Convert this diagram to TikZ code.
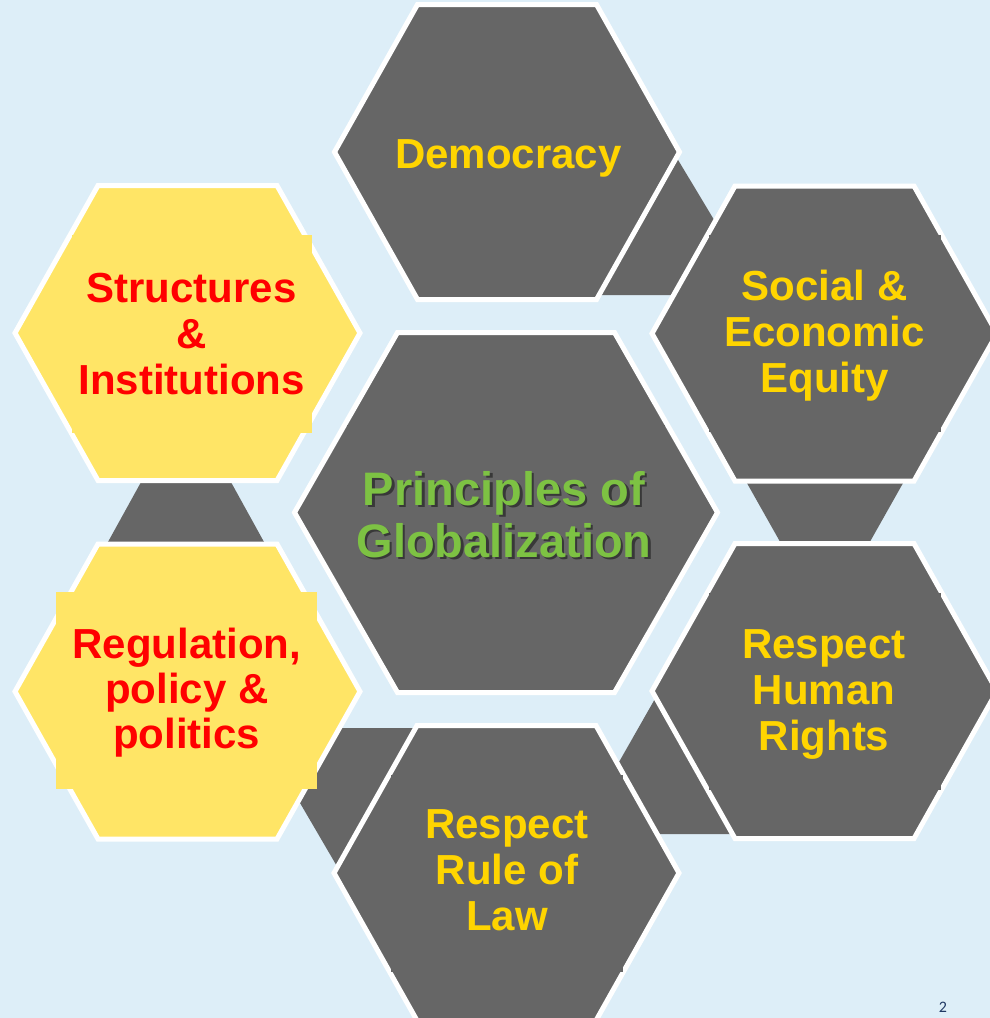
\documentclass[tikz,border=0pt]{standalone}
\usepackage{fontspec}
\setmainfont{Liberation Sans}
\newfontfamily\pagenumfont{Carlito}
\definecolor{bg}{HTML}{DDEEF8}
\definecolor{hexgray}{HTML}{666666}
\definecolor{hexyellow}{HTML}{FFE566}
\definecolor{gold}{HTML}{FFD500}
\definecolor{lblred}{HTML}{FF0000}
\definecolor{lblgreen}{HTML}{7DC243}
\definecolor{navy}{HTML}{1F3864}
\newcommand\hexlines[1]{\begin{tabular}[t]{@{}c@{}}#1\end{tabular}}
\newcommand\outerhex[3]{\draw[#1,shift={(#2,#3)}] (-172.5,0) -- (-89.5,-147.5) -- (89.5,-147.5) -- (172.5,0) -- (89.5,147.5) -- (-89.5,147.5) -- cycle;}
\begin{document}
\begin{tikzpicture}[x=1pt,y=-1pt,
  grayhex/.style={fill=hexgray,draw=white,line width=5pt},
  yelhex/.style={fill=hexyellow,draw=white,line width=5pt},
  gapshape/.style={fill=hexgray},
  graybox/.style={fill=hexgray},
  yelbox/.style={fill=hexyellow},
  goldlbl/.style={text=gold,font=\bfseries\fontsize{42}{46}\selectfont,inner sep=0pt,anchor=base},
  redlbl/.style={text=lblred,font=\bfseries\fontsize{42}{46}\selectfont,inner sep=0pt,anchor=base},
  greenlbl/.style={text=lblgreen,font=\bfseries\fontsize{47}{52}\selectfont,inner sep=0pt,anchor=base},
  shadowlbl/.style={text=black,opacity=0.45,font=\bfseries\fontsize{47}{52}\selectfont,inner sep=0pt,anchor=base}]
\fill[bg] (0,0) rectangle (990,1018);
\useasboundingbox (0,0) rectangle (990,1018);
\clip (0,0) rectangle (990,1018);
% connector shapes between neighbouring hexagons
\fill[gapshape] (642,100) -- (740,263) -- (740,295) -- (560,295) -- cycle;
\fill[gapshape] (742.4,475) -- (907.6,475) -- (865.3,550) -- (784.7,550) -- cycle;
\fill[gapshape] (660,690) -- (700,690) -- (760,834) -- (578,834) -- cycle;
\fill[gapshape] (330,728) -- (440,728) -- (440,800) -- (345,880) -- (286.6,780) -- cycle;
\fill[gapshape] (145.5,474) -- (226.5,474) -- (267.9,549) -- (104.1,549) -- cycle;
% hexagons
\outerhex{grayhex}{507}{152}
\outerhex{grayhex}{824.5}{333.5}
\outerhex{grayhex}{824.5}{691}
\outerhex{grayhex}{506.5}{873}
\outerhex{yelhex}{187.5}{691.5}
\outerhex{yelhex}{187.5}{333}
\draw[grayhex,shift={(506,512.5)}] (-211.5,0) -- (-108.5,-180) -- (108.5,-180) -- (211.5,0) -- (108.5,180) -- (-108.5,180) -- cycle;
% text boxes
\fill[graybox] (708.5,235) rectangle (940.5,432);
\fill[graybox] (708.5,592.5) rectangle (940.5,789.5);
\fill[graybox] (390.5,774.5) rectangle (622.5,971.5);
\fill[graybox] (347,425) rectangle (665,600);
\fill[yelbox] (72,235) rectangle (312,433);
\fill[yelbox] (56,592) rectangle (317,789);
% labels
\node[goldlbl] (democracy) at (508.5,168) {Democracy};
\node[goldlbl] (social) at (824.5,300) {\hexlines{Social \&\\Economic\\Equity}};
\node[goldlbl] (rights) at (824,658) {\hexlines{Respect\\Human\\Rights}};
\node[goldlbl] (law) at (507,838) {\hexlines{Respect\\Rule of\\Law}};
\node[redlbl] (structures) at (191.5,302) {\hexlines{Structures\\\&\\Institutions}};
\node[redlbl,font=\bfseries\fontsize{42}{45}\selectfont] (regulation) at (186.7,658) {\hexlines{Regulation,\\policy \&\\politics}};
\node[shadowlbl] (centershadow) at (506.5,507.5) {\hexlines{Principles of\\Globalization}};
\node[greenlbl] (center) at (504,505) {\hexlines{Principles of\\Globalization}};
\node[text=navy,font=\pagenumfont\fontsize{16}{18}\selectfont,inner sep=0pt,anchor=base] (pagenum) at (943,1012) {2};
\end{tikzpicture}
\end{document}
